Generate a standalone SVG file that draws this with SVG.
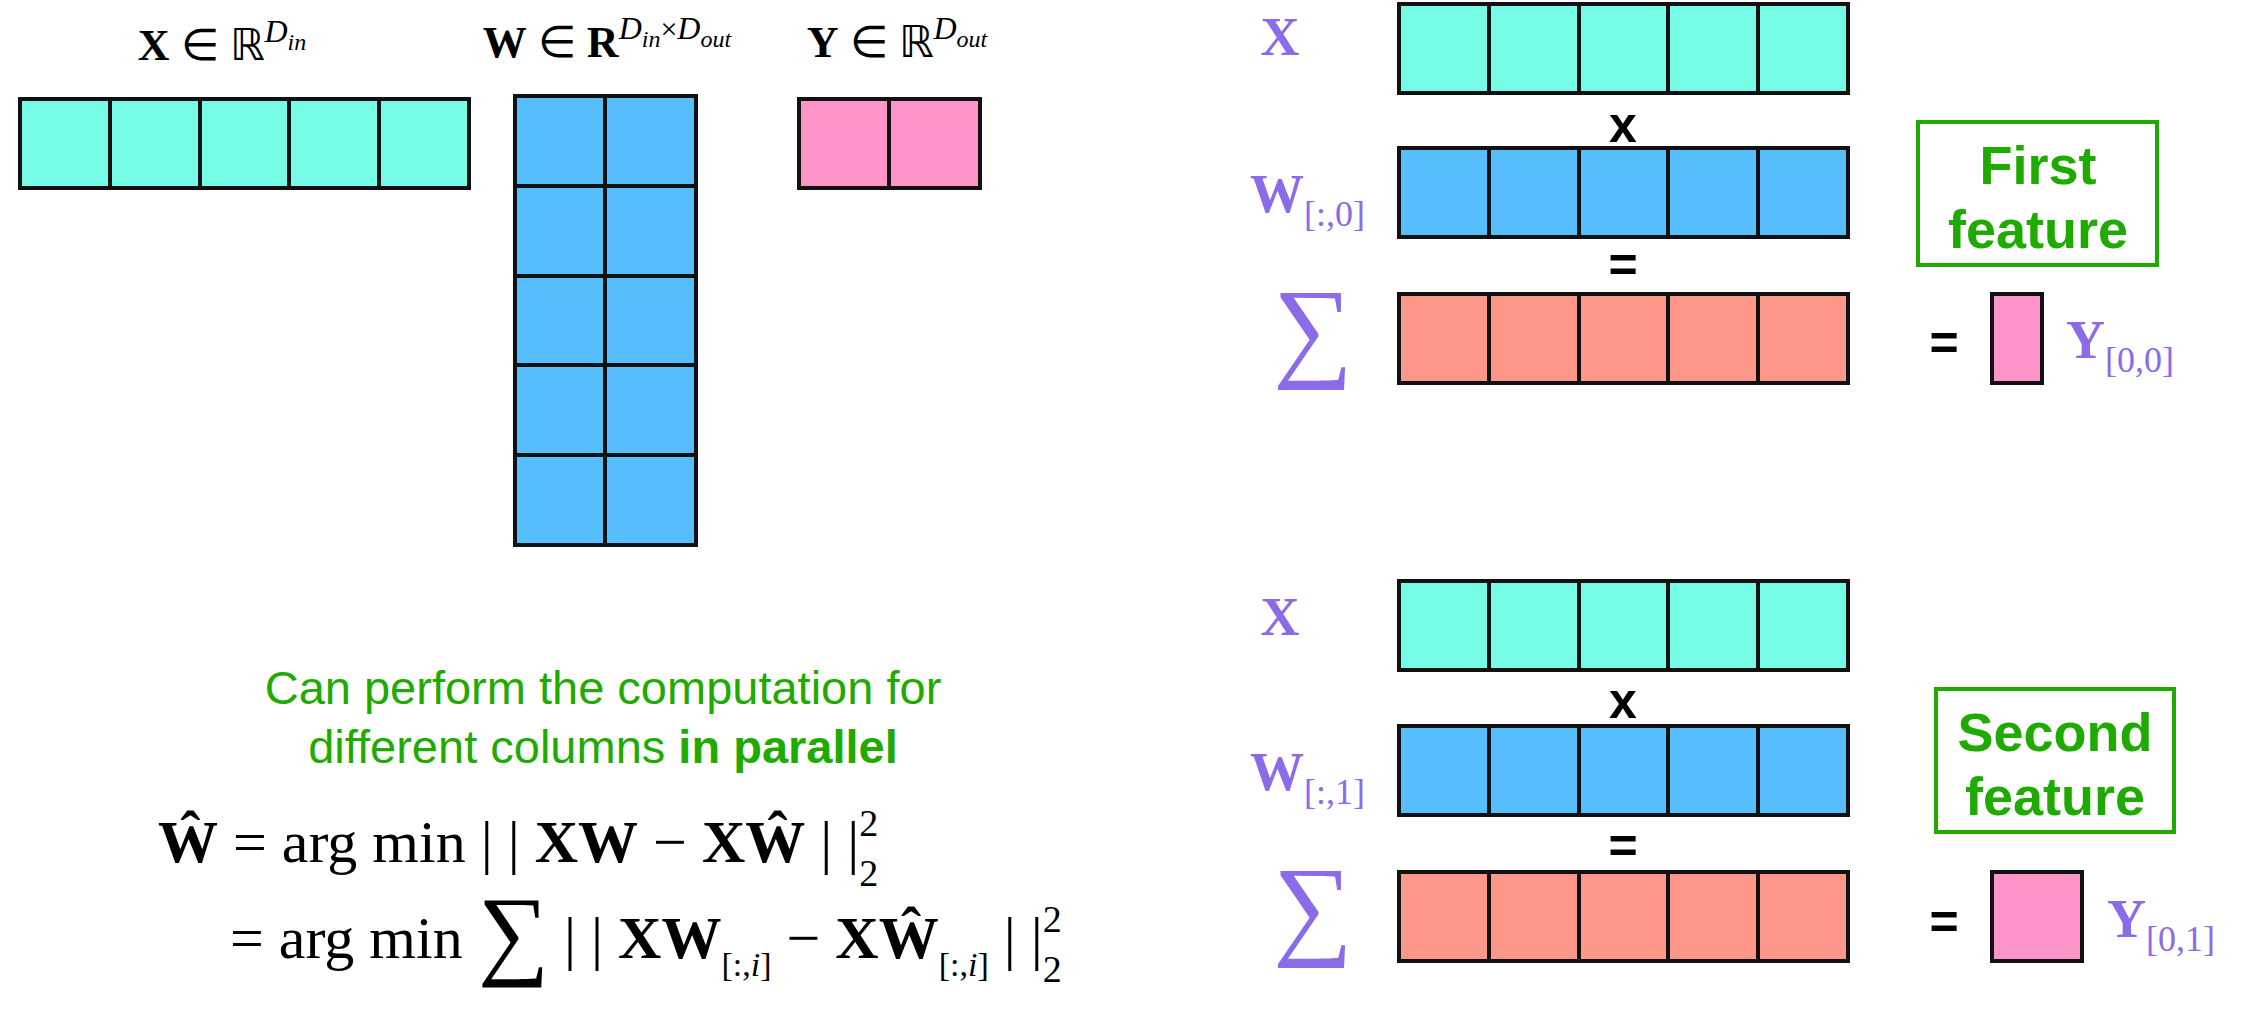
<svg xmlns="http://www.w3.org/2000/svg" width="2250" height="1015" viewBox="0 0 2250 1015">
<style>
.c{stroke:#111;stroke-width:4}
.t{fill:#76FCE6}.b{fill:#57BEFD}.p{fill:#FE94C8}.s{fill:#FD978A}
.m{font-family:"Liberation Serif",serif;fill:#000}
.pu{font-family:"Liberation Serif",serif;fill:#8B6BE8;font-weight:bold}
.pus{font-family:"Liberation Serif",serif;fill:#8B6BE8}
.op{font-family:"Liberation Sans",sans-serif;font-weight:bold;font-size:50px;text-anchor:middle}
.g{font-family:"Liberation Sans",sans-serif;fill:#1FAA00}
.gb{font-family:"Liberation Sans",sans-serif;fill:#1FAA00;font-weight:bold;font-size:54px;text-anchor:middle}
.box{fill:none;stroke:#1FAA00;stroke-width:4}
</style>
<defs>
<g id="row5t"><rect class="c t" x="0" y="0" width="449" height="89"/><path class="c" d="M90 0V89M180 0V89M269 0V89M359 0V89"/></g>
<g id="row5b"><rect class="c b" x="0" y="0" width="449" height="89"/><path class="c" d="M90 0V89M180 0V89M269 0V89M359 0V89"/></g>
<g id="row5s"><rect class="c s" x="0" y="0" width="449" height="89"/><path class="c" d="M90 0V89M180 0V89M269 0V89M359 0V89"/></g>
</defs>
<g id="xvec"><use href="#row5t" x="20" y="99"/>
<text class="m" x="222" y="60" font-size="44" text-anchor="middle"><tspan font-weight="bold">X</tspan> ∈ ℝ<tspan font-style="italic" font-size="32" dy="-18">D</tspan><tspan font-style="italic" font-size="24" dy="8">in</tspan></text></g>
<g id="wmat"><rect class="c b" x="515" y="96" width="181" height="449"/><path class="c" d="M605 96V545M515 186H696M515 276H696M515 365H696M515 455H696"/>
<text class="m" x="607" y="57" font-size="44" text-anchor="middle"><tspan font-weight="bold">W</tspan> ∈ <tspan font-weight="bold">R</tspan><tspan font-style="italic" font-size="32" dy="-18">D</tspan><tspan font-style="italic" font-size="24" dy="8">in</tspan><tspan font-size="30" dy="-8">×</tspan><tspan font-style="italic" font-size="32">D</tspan><tspan font-style="italic" font-size="24" dy="8">out</tspan></text></g>
<g id="yvec"><rect class="c p" x="799" y="99" width="181" height="89"/><path class="c" d="M889 99V188"/>
<text class="m" x="897" y="57" font-size="44" text-anchor="middle"><tspan font-weight="bold">Y</tspan> ∈ ℝ<tspan font-style="italic" font-size="32" dy="-18">D</tspan><tspan font-style="italic" font-size="24" dy="8">out</tspan></text></g>
<g id="note"><text class="g" x="603" y="704" font-size="47" text-anchor="middle">Can perform the computation for</text>
<text class="g" x="603" y="763" font-size="47" text-anchor="middle">different columns <tspan font-weight="bold">in parallel</tspan></text></g>
<g id="eq"><text class="m" x="158" y="862" font-size="60"><tspan font-weight="bold">Ŵ</tspan> = arg min | | <tspan font-weight="bold">XW</tspan> − <tspan font-weight="bold">XŴ</tspan> | |<tspan font-size="38" dy="-26">2</tspan><tspan font-size="38" dx="-19" dy="50">2</tspan></text>
<text class="m" x="230" y="958" font-size="60">= arg min <tspan font-size="100" dy="8">∑</tspan><tspan dy="-8"> | | </tspan><tspan font-weight="bold">XW</tspan><tspan font-size="34" dy="18">[:,<tspan font-style="italic">i</tspan>]</tspan><tspan dy="-18"> − </tspan><tspan font-weight="bold">XŴ</tspan><tspan font-size="34" dy="18">[:,<tspan font-style="italic">i</tspan>]</tspan><tspan dy="-18"> | |</tspan><tspan font-size="38" dy="-26">2</tspan><tspan font-size="38" dx="-19" dy="50">2</tspan></text></g>
<g id="first">
<text class="pu" x="1280" y="55" font-size="54" text-anchor="middle">X</text>
<use href="#row5t" x="1399" y="4"/>
<text class="op" x="1623" y="142">x</text>
<text class="pu" x="1250" y="212" font-size="54">W<tspan class="pus" font-weight="normal" font-size="36" dy="14">[:,0]</tspan></text>
<use href="#row5b" x="1399" y="148"/>
<text class="op" x="1623" y="282">=</text>
<text class="pus" x="1313" y="366" font-size="112" text-anchor="middle">∑</text>
<use href="#row5s" x="1399" y="294"/>
<text class="op" x="1944" y="360">=</text>
<rect class="c p" x="1992" y="294" width="50" height="89"/>
<text class="pu" x="2066" y="358" font-size="54">Y<tspan class="pus" font-weight="normal" font-size="36" dy="14">[0,0]</tspan></text>
<rect class="box" x="1918" y="122" width="239" height="143"/>
<text class="gb" x="2038" y="184">First</text><text class="gb" x="2038" y="248">feature</text>
</g>
<g id="second">
<text class="pu" x="1280" y="635" font-size="54" text-anchor="middle">X</text>
<use href="#row5t" x="1399" y="581"/>
<text class="op" x="1623" y="718">x</text>
<text class="pu" x="1250" y="790" font-size="54">W<tspan class="pus" font-weight="normal" font-size="36" dy="14">[:,1]</tspan></text>
<use href="#row5b" x="1399" y="726"/>
<text class="op" x="1623" y="863">=</text>
<text class="pus" x="1313" y="944" font-size="112" text-anchor="middle">∑</text>
<use href="#row5s" x="1399" y="872"/>
<text class="op" x="1944" y="939">=</text>
<rect class="c p" x="1992" y="872" width="90" height="89"/>
<text class="pu" x="2107" y="937" font-size="54">Y<tspan class="pus" font-weight="normal" font-size="36" dy="14">[0,1]</tspan></text>
<rect class="box" x="1936" y="689" width="238" height="143"/>
<text class="gb" x="2055" y="751">Second</text><text class="gb" x="2055" y="815">feature</text>
</g>
<g id="connectors"/>
</svg>
